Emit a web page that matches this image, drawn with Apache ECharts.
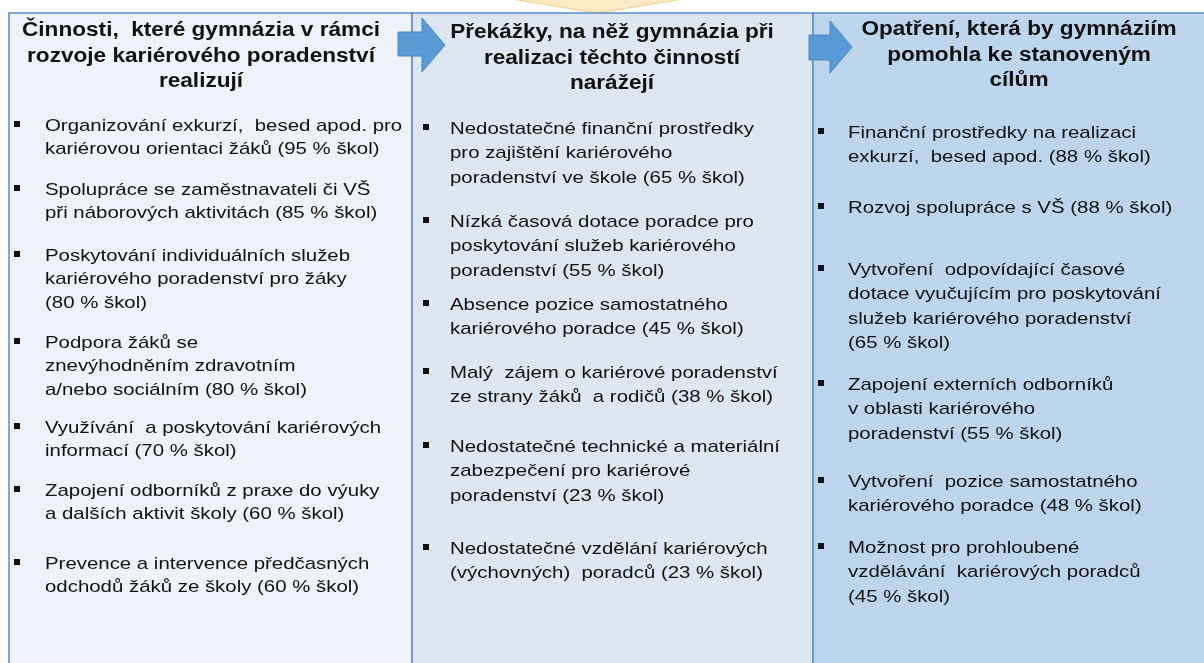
<!DOCTYPE html>
<html lang="cs">
<head>
    <meta charset="UTF-8">
    <title>Kariérové poradenství na gymnáziích</title>
    <script src="https://cdn.jsdelivr.net/npm/echarts@6/dist/echarts.min.js"></script>
    <style>
        html, body { margin: 0; padding: 0; background: #fff; }
        #main { width: 1204px; height: 663px; }
    </style>
</head>
<body>
<div id="main"></div>
<script>
    // nadpisy sloupců
    var headings = [
        'Činnosti,  které gymnázia v rámci\nrozvoje kariérového poradenství\nrealizují',
        'Překážky, na něž gymnázia při\nrealizaci těchto činností\nnarážejí',
        'Opatření, která by gymnáziím\npomohla ke stanoveným\ncílům'
    ];

    // sloupec 1 - činnosti
    var activities = [
        'Organizování exkurzí,  besed apod. pro\nkariérovou orientaci žáků ',
        'Spolupráce se zaměstnavateli či VŠ\npři náborových aktivitách ',
        'Poskytování individuálních služeb\nkariérového poradenství pro žáky\n',
        'Podpora žáků se\nznevýhodněním zdravotním\na/nebo sociálním ',
        'Využívání  a poskytování kariérových\ninformací ',
        'Zapojení odborníků z praxe do výuky\na dalších aktivit školy ',
        'Prevence a intervence předčasných\nodchodů žáků ze školy '
    ];
    var activityPct = [95, 85, 80, 80, 70, 60, 60];

    // sloupec 2 - překážky
    var barriers = [
        'Nedostatečné finanční prostředky\npro zajištění kariérového\nporadenství ve škole ',
        'Nízká časová dotace poradce pro\nposkytování služeb kariérového\nporadenství ',
        'Absence pozice samostatného\nkariérového poradce ',
        'Malý  zájem o kariérové poradenství\nze strany žáků  a rodičů ',
        'Nedostatečné technické a materiální\nzabezpečení pro kariérové\nporadenství ',
        'Nedostatečné vzdělání kariérových\n(výchovných)  poradců '
    ];
    var barrierPct = [65, 55, 45, 38, 23, 23];

    // sloupec 3 - opatření
    var measures = [
        'Finanční prostředky na realizaci\nexkurzí,  besed apod. ',
        'Rozvoj spolupráce s VŠ ',
        'Vytvoření  odpovídající časové\ndotace vyučujícím pro poskytování\nslužeb kariérového poradenství\n',
        'Zapojení externích odborníků\nv oblasti kariérového\nporadenství ',
        'Vytvoření  pozice samostatného\nkariérového poradce ',
        'Možnost pro prohloubené\nvzdělávání  kariérových poradců\n'
    ];
    var measurePct = [88, 88, 65, 55, 48, 45];

    // rozložení - svislé středy prvních řádků položek
    var rowTops1 = [126, 190, 256, 343, 428, 491, 564];
    var rowTops2 = [129, 222, 305, 373, 447, 549];
    var rowTops3 = [133, 208, 270, 385, 482, 548];

    var FONT = '"Liberation Sans", Arial, sans-serif';
    var TEXT_COLOR = '#111111';
    var BORDER = '#5b8cc8';
    var STRETCH = 1.2;   // písmo v originále je vodorovně roztažené

    var columns = [
        { x: 9, w: 403, fill: '#eef3fa', items: activities, pct: activityPct, tops: rowTops1, bx: 14, tx: 45, lh: 23.5, hx: 201, hy: 18 },
        { x: 412, w: 401, fill: '#dce7f3', items: barriers, pct: barrierPct, tops: rowTops2, bx: 423, tx: 450, lh: 24.5, hx: 612, hy: 20 },
        { x: 813, w: 400, fill: '#bdd6ee', items: measures, pct: measurePct, tops: rowTops3, bx: 818, tx: 848, lh: 24.5, hx: 1019, hy: 17 }
    ];

    var elements = [];

    // horní žlutá šipka (useknutá)
    elements.push({
        type: 'polygon', z: 1,
        shape: { points: [[505, -2], [690, -2], [597, 13]] },
        style: { fill: '#fde9c4', stroke: '#f2cf95', lineWidth: 1 }
    });

    columns.forEach(function (col) {
        elements.push({
            type: 'rect', z: 2,
            shape: { x: col.x, y: 13, width: col.w, height: 680 },
            style: { fill: col.fill, stroke: BORDER, lineWidth: 1.5 }
        });
    });

    columns.forEach(function (col, ci) {
        elements.push({
            type: 'text', z: 5,
            x: col.hx, y: col.hy,
            scaleX: 1.13,
            style: {
                text: headings[ci],
                font: 'bold 20px ' + FONT,
                fill: TEXT_COLOR,
                align: 'center',
                verticalAlign: 'top',
                lineHeight: 25.5
            }
        });
        col.items.forEach(function (label, i) {
            var cy = col.tops[i];
            elements.push({
                type: 'rect', z: 5,
                shape: { x: col.bx, y: cy - 5, width: 6, height: 6 },
                style: { fill: '#111' }
            });
            elements.push({
                type: 'text', z: 5,
                x: col.tx, y: cy - col.lh / 2,
                scaleX: STRETCH,
                style: {
                    text: label + '(' + col.pct[i] + ' % škol)',
                    font: '17px ' + FONT,
                    fill: TEXT_COLOR,
                    align: 'left',
                    verticalAlign: 'top',
                    lineHeight: col.lh
                }
            });
        });
    });

    // modré šipky mezi sloupci
    function arrow(x0, shaftTop, shaftBot, xHead, headTop, headBot, tip) {
        var mid = (headTop + headBot) / 2;
        return {
            type: 'polygon', z: 4,
            shape: {
                points: [[x0, shaftTop], [xHead, shaftTop], [xHead, headTop], [tip, mid],
                    [xHead, headBot], [xHead, shaftBot], [x0, shaftBot]]
            },
            style: { fill: '#5b9bd5', stroke: '#4a84c0', lineWidth: 1 }
        };
    }
    elements.push(arrow(398, 32, 56, 422, 18, 72, 445));
    elements.push(arrow(809, 35, 60, 830, 21, 73, 852));

    var myChart = echarts.init(document.getElementById('main'));
    myChart.setOption({
        backgroundColor: '#ffffff',
        animation: false,
        graphic: { elements: elements }
    });
</script>
</body>
</html>
